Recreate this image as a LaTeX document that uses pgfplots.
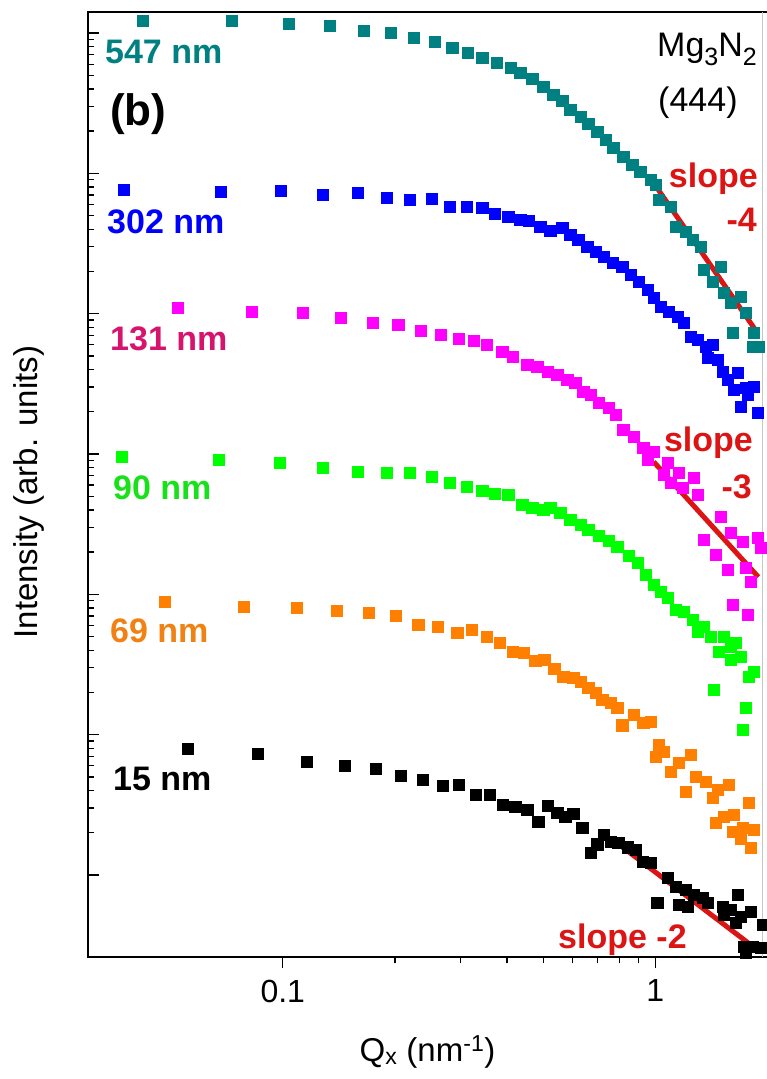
\documentclass[border=0pt]{standalone}
\usepackage{pgfplots}
\pgfplotsset{compat=1.18}
\usepackage{fontspec}
\setmainfont{Liberation Sans}
\definecolor{cteal}{RGB}{0,128,128}
\definecolor{cblue}{RGB}{0,0,255}
\definecolor{cmag}{RGB}{255,0,255}
\definecolor{cmagtxt}{RGB}{214,20,110}
\definecolor{cgreen}{RGB}{0,255,0}
\definecolor{cgreentxt}{RGB}{25,225,25}
\definecolor{corange}{RGB}{255,128,0}
\definecolor{corangetxt}{RGB}{240,130,20}
\definecolor{cred}{RGB}{220,20,20}
\begin{document}
\begin{tikzpicture}
\useasboundingbox (-88pt,-122pt) rectangle (678pt,957pt);
\begin{axis}[
  at={(0pt,0pt)}, anchor=south west,
  scale only axis, width=679.5pt, height=945pt,
  xmode=log, ymode=log,
  xmin=0.03, xmax=2, ymin=0.2604, ymax=1.412e6,
  xtick={0.1,1}, xticklabels={\mbox{0.1},\mbox{1}},
  ytick={1,10,100,1000,10000,100000,1000000},
  yticklabels={},
  xtick pos=left, ytick pos=left,
  xtick align=outside, ytick align=inside,
  major tick length=11.5pt, minor tick length=6.5pt,
  every tick/.style={black, line width=1.3pt},
  axis line style={line width=1.5pt},
  /pgf/number format/assume math mode=true,
  xticklabel style={font=\fontsize{32}{36}\selectfont, inner sep=0pt, anchor=north, yshift=-11pt},
  xlabel={Q\textsubscript{x} (nm\textsuperscript{-1})},
  ylabel={Intensity (arb. units)},
  xlabel style={font=\fontsize{33}{38}\selectfont, at={(axis description cs:0.4996,-0.1005)}, anchor=center},
  ylabel style={font=\fontsize{33}{38}\selectfont, at={(axis description cs:-0.0868,0.492)}, anchor=center},
  mark size=5.6pt,
]
% 547 nm
\addplot[only marks, mark=square*, color=cteal] coordinates {
(0.0420,1.222e6) (0.0729,1.222e6) (0.1038,1.163e6) (0.1337,1.125e6) (0.165,1.037e6)
(0.195,1.003e6) (0.225,9.24e5) (0.256,8.66e5) (0.285,7.84e5) (0.314,7.23e5)
(0.343,6.66e5) (0.376,6.13e5) (0.408,5.65e5) (0.434,5.21e5) (0.467,4.72e5)
(0.500,4.14e5) (0.532,3.63e5) (0.562,3.29e5) (0.591,2.84e5) (0.629,2.53e5)
(0.660,2.25e5) (0.698,1.98e5) (0.734,1.73e5) (0.771,1.52e5) (0.820,1.31e5)
(0.867,1.15e5) (0.911,1.025e5) (0.970,8.99e4) (1.000,8.28e4) (1.019,6.47e4)
(1.097,5.77e4) (1.132,4.16e4) (1.204,3.83e4) (1.257,3.36e4) (1.321,2.99e4)
(1.346,2.05e4) (1.423,1.69e4) (1.495,2.16e4) (1.523,1.41e4) (1.591,1.19e4)
(1.692,1.32e4) (1.746,1.01e4) (1.611,7.30e3) (1.834,7.30e3) (1.823,5.80e3)
(1.892,5.80e3)
};
% 302 nm
\addplot[only marks, mark=square*, color=cblue] coordinates {
(0.0374,7.63e4) (0.0681,7.38e4) (0.0988,7.50e4) (0.128,7.03e4) (0.159,7.26e4)
(0.190,6.69e4) (0.219,6.47e4) (0.2515,6.58e4) (0.281,5.77e4) (0.312,5.77e4)
(0.343,5.68e4) (0.371,5.14e4) (0.4025,4.90e4) (0.434,4.66e4) (0.456,4.59e4)
(0.491,4.16e4) (0.522,3.89e4) (0.562,4.09e4) (0.591,3.65e4) (0.621,3.36e4)
(0.656,2.99e4) (0.690,2.76e4) (0.725,2.54e4) (0.7665,2.30e4) (0.815,2.16e4)
(0.857,1.89e4) (0.900,1.69e4) (0.952,1.48e4) (0.988,1.30e4) (1.031,1.12e4)
(1.084,1.03e4) (1.146,9.49e3) (1.189,8.60e3) (1.242,6.83e3) (1.297,6.51e3)
(1.362,5.80e3) (1.423,5.99e3) (1.380,4.84e3) (1.468,4.69e3) (1.514,3.85e3)
(1.661,3.78e3) (1.562,3.38e3) (1.621,2.86e3) (1.746,2.96e3) (1.834,3.01e3)
(1.767,2.64e3) (1.692,2.17e3) (1.880,1.96e3)
};
% 131 nm
\addplot[only marks, mark=square*, color=cmag] coordinates {
(0.0522,1.10e4) (0.0825,1.03e4) (0.1132,1.01e4) (0.1432,9.34e3) (0.1746,8.60e3)
(0.204,8.32e3) (0.235,7.54e3) (0.266,7.06e3) (0.297,6.61e3) (0.326,6.40e3)
(0.353,5.99e3) (0.388,5.34e3) (0.415,4.92e3) (0.453,4.32e3) (0.482,4.18e3)
(0.513,3.85e3) (0.545,3.66e3) (0.580,3.38e3) (0.609,3.21e3) (0.640,2.77e3)
(0.669,2.64e3) (0.703,2.31e3) (0.748,2.13e3) (0.781,1.90e3) (0.820,1.485e3)
(0.873,1.32e3) (0.928,1.105e3) (0.988,1.035e3) (0.952,908) (1.077,864)
(1.051,710) (1.153,733) (1.265,675) (1.097,622) (1.182,573)
(1.297,511) (1.495,356) (1.346,244) (1.591,274) (1.713,236)
(1.880,252) (1.915,214) (1.450,191) (1.562,149) (1.746,154)
(1.800,123) (1.611,84.0) (1.767,71.3)
};
% 90 nm
\addplot[only marks, mark=square*, color=cgreen] coordinates {
(0.0369,953) (0.0673,908) (0.0982,864) (0.128,796) (0.159,746)
(0.190,733) (0.219,733) (0.2515,687) (0.281,622) (0.312,583)
(0.343,546) (0.371,520) (0.4025,511) (0.439,434) (0.467,413)
(0.500,400) (0.522,413) (0.5555,380) (0.591,339) (0.629,312)
(0.660,288) (0.703,261) (0.748,240) (0.790,218) (0.846,188)
(0.895,167) (0.940,137.5) (0.988,116.7) (1.031,104) (1.077,94.2)
(1.132,77.4) (1.189,74.9) (1.257,65.7) (1.297,54.0) (1.346,58.6)
(1.405,49.7) (1.523,49.7) (1.477,38.9) (1.591,42.2) (1.641,45.0)
(1.591,34.1) (1.692,35.8) (1.432,20.8) (1.778,25.8) (1.834,28.0)
(1.746,15.5) (1.713,10.8)
};
% 69 nm
\addplot[only marks, mark=square*, color=corange] coordinates {
(0.0482,88.3) (0.0786,81.3) (0.109,80.0) (0.1397,76.1) (0.170,73.7)
(0.201,70.2) (0.231,60.5) (0.261,58.6) (0.294,53.1) (0.322,55.8)
(0.353,49.7) (0.383,45.0) (0.415,38.9) (0.444,38.2) (0.476,33.5)
(0.503,34.1) (0.535,29.4) (0.566,25.8) (0.602,25.4) (0.629,23.7)
(0.660,21.5) (0.690,19.8) (0.720,17.7) (0.757,16.8) (0.790,15.5)
(0.815,11.7) (0.873,13.8) (0.928,12.1) (0.970,12.3) (1.019,8.45)
(1.000,6.93) (1.051,7.53) (1.097,5.42) (1.153,6.28) (1.242,7.17)
(1.204,3.91) (1.281,4.99) (1.362,4.60) (1.423,3.54) (1.468,4.03)
(1.571,4.38) (1.450,2.35) (1.523,2.59) (1.621,2.68) (1.778,3.26)
(1.611,2.03) (1.713,2.16) (1.834,2.09) (1.692,1.83) (1.800,1.56)
};
% 15 nm
\addplot[only marks, mark=square*, color=black] coordinates {
(0.0556,7.91) (0.0857,7.29) (0.116,6.39) (0.1468,5.98) (0.1778,5.69)
(0.2076,5.08) (0.2378,4.75) (0.269,4.31) (0.297,4.38) (0.330,3.72)
(0.360,3.72) (0.390,3.16) (0.4205,3.05) (0.453,2.91) (0.485,2.39)
(0.513,3.10) (0.545,2.77) (0.573,2.59) (0.602,2.72) (0.636,2.16)
(0.669,1.435) (0.698,1.66) (0.725,1.93) (0.757,1.72) (0.795,1.69)
(0.841,1.58) (0.884,1.51) (0.923,1.24) (0.970,1.22) (1.012,0.632)
(1.077,0.952) (1.132,0.821) (1.153,0.611) (1.204,0.782) (1.219,0.591)
(1.265,0.720) (1.338,0.686) (1.380,0.632) (1.514,0.591) (1.523,0.519)
(1.591,0.563) (1.661,0.720) (1.641,0.455) (1.692,0.502) (1.800,0.545)
(1.940,0.440) (1.746,0.278) (1.823,0.307) (1.915,0.302) (1.724,0.307)
};
% slope lines
\addplot[cred, line width=5pt, no marks] coordinates {(1.019,7.62e4) (1.88,7.30e3)};
\addplot[cred, line width=5pt, no marks] coordinates {(0.99,879) (1.89,133)};
\addplot[cred, line width=5pt, no marks] coordinates {(0.815,1.585) (1.778,0.327)};
% faint right border
\draw[gray!45, line width=0.6pt] (rel axis cs:0.9919,0) -- (rel axis cs:0.9919,1);
% labels
\begin{scope}[every node/.style={inner sep=0pt, font=\fontsize{34}{40}\selectfont\bfseries}]
\node[anchor=base west, text=cteal] at (rel axis cs:0.0250,0.9460) {547 nm};
\node[anchor=base west, text=cblue] at (rel axis cs:0.0280,0.7661) {302 nm};
\node[anchor=base west, text=cmagtxt] at (rel axis cs:0.0324,0.6413) {131 nm};
\node[anchor=base west, text=cgreentxt] at (rel axis cs:0.0368,0.4836) {90 nm};
\node[anchor=base west, text=corangetxt] at (rel axis cs:0.0324,0.3333) {69 nm};
\node[anchor=base west, text=black] at (rel axis cs:0.0368,0.1767) {15 nm};
\node[anchor=base west, text=black, font=\fontsize{44}{50}\selectfont\bfseries] at (rel axis cs:0.0324,0.8804) {(b)};
\node[anchor=base east, text=cred] at (rel axis cs:0.9860,0.8148) {slope};
\node[anchor=base east, text=cred] at (rel axis cs:0.9845,0.7672) {-4};
\node[anchor=base east, text=cred] at (rel axis cs:0.9787,0.5344) {slope};
\node[anchor=base east, text=cred] at (rel axis cs:0.9772,0.4857) {-3};
\node[anchor=base west, text=cred] at (rel axis cs:0.6917,0.0095) {slope -2};
\node[anchor=base west, text=black, font=\fontsize{34}{40}\selectfont] at (rel axis cs:0.8374,0.9524) {Mg\raisebox{-9pt}{\fontsize{25}{28}\selectfont 3}N\raisebox{-9pt}{\fontsize{25}{28}\selectfont 2}};
\node[anchor=base west, text=black, font=\fontsize{34}{40}\selectfont] at (rel axis cs:0.8389,0.8942) {(444)};
\end{scope}
\end{axis}
\end{tikzpicture}
\end{document}
